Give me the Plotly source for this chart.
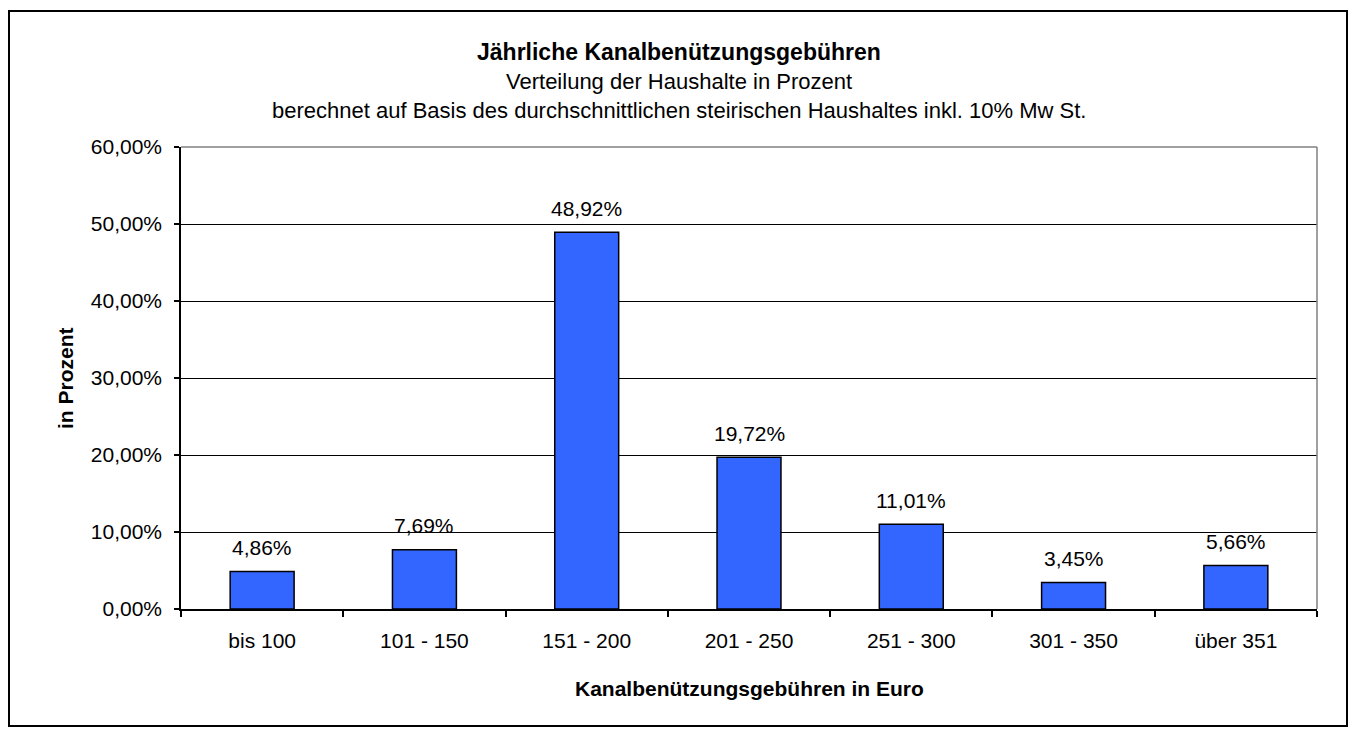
import plotly.graph_objects as go

categories = ["bis 100", "101 - 150", "151 - 200", "201 - 250", "251 - 300", "301 - 350", "über 351"]
values_pct = [4.86, 7.69, 48.92, 19.72, 11.01, 3.45, 5.66]
y_ticks_pct = [0, 10, 20, 30, 40, 50, 60]

title_main = "Jährliche Kanalbenützungsgebühren"
title_sub1 = "Verteilung der Haushalte in Prozent"
title_sub2 = "berechnet auf Basis des durchschnittlichen steirischen Haushaltes inkl. 10% Mw St."
x_title = "Kanalbenützungsgebühren in Euro"
y_title = "in Prozent"

# page offset of the figure (body margin) -> figure coordinates = page - OFF
OFF = 8
W, H = 1341, 719
L, R, T, B = 181 - OFF, W - (1317 - OFF), 147 - OFF, H - (609 - OFF)
PW, PH = W - L - R, H - T - B

def px_x(page_x):
    return (page_x - OFF - L) / PW

def px_y(page_y):
    return (H - B - (page_y - OFF)) / PH

FONT = "Liberation Sans, Arial, sans-serif"
values = [v / 100 for v in values_pct]

def fmt(v):
    return f"{v:.2f}".replace(".", ",") + "%"

fig = go.Figure()
fig.add_trace(go.Bar(
    x=categories, y=values,
    marker=dict(color="#3366FF", line=dict(color="black", width=1.5)),
    hoverinfo="skip",
))

annotations = []
for c, v, vp in zip(categories, values, values_pct):
    annotations.append(dict(x=c, y=v, xref="x", yref="y", text=fmt(vp), showarrow=False,
                            yanchor="middle", yshift=24, font=dict(family=FONT, size=21, color="black")))

cx = 0.5
annotations += [
    dict(x=px_x(679), y=px_y(52), xref="paper", yref="paper", text="<b>" + title_main + "</b>",
         showarrow=False, yanchor="middle", xanchor="center", font=dict(family=FONT, size=23, color="black")),
    dict(x=px_x(679), y=px_y(81), xref="paper", yref="paper", text=title_sub1,
         showarrow=False, yanchor="middle", xanchor="center", font=dict(family=FONT, size=22, color="black")),
    dict(x=px_x(679), y=px_y(110), xref="paper", yref="paper", text=title_sub2,
         showarrow=False, yanchor="middle", xanchor="center", font=dict(family=FONT, size=22, color="black")),
    dict(x=cx, y=px_y(688), xref="paper", yref="paper", text="<b>" + x_title + "</b>",
         showarrow=False, yanchor="middle", xanchor="center", font=dict(family=FONT, size=21, color="black")),
    dict(x=px_x(65), y=0.5, xref="paper", yref="paper", text="<b>" + y_title + "</b>", textangle=-90,
         showarrow=False, yanchor="middle", xanchor="center", font=dict(family=FONT, size=21, color="black")),
]

shapes = [
    # outer chart border
    dict(type="rect", xref="paper", yref="paper", x0=px_x(9), x1=px_x(1347), y0=px_y(726), y1=px_y(11),
         line=dict(color="black", width=2), layer="below"),
    # plot area top/right border (gray)
    dict(type="line", xref="paper", yref="paper", x0=0, x1=1, y0=1, y1=1, line=dict(color="#808080", width=1.5)),
    dict(type="line", xref="paper", yref="paper", x0=1, x1=1, y0=0, y1=1, line=dict(color="#808080", width=1.5)),
]

fig.update_layout(
    width=W, height=H,
    margin=dict(l=L, r=R, t=T, b=B),
    paper_bgcolor="white", plot_bgcolor="white",
    separators=",.",
    bargap=0.606,
    showlegend=False,
    font=dict(family=FONT, size=21, color="black"),
    annotations=annotations,
    shapes=shapes,
    xaxis=dict(
        showline=True, linecolor="black", linewidth=1.5,
        ticks="outside", tickson="boundaries", ticklen=6, tickcolor="black", tickwidth=1.5,
        showgrid=False, ticklabelstandoff=12,
        tickfont=dict(family=FONT, size=21, color="black"),
    ),
    yaxis=dict(
        range=[0, 0.6], tickvals=[t / 100 for t in y_ticks_pct], tickformat=".2%",
        showline=True, linecolor="black", linewidth=1.5,
        ticks="outside", ticklen=5, tickcolor="black", tickwidth=1.5,
        showgrid=True, gridcolor="black", gridwidth=1,
        zeroline=False, ticklabelstandoff=8,
        tickfont=dict(family=FONT, size=21, color="black"),
    ),
)

fig.write_html("out.html")
